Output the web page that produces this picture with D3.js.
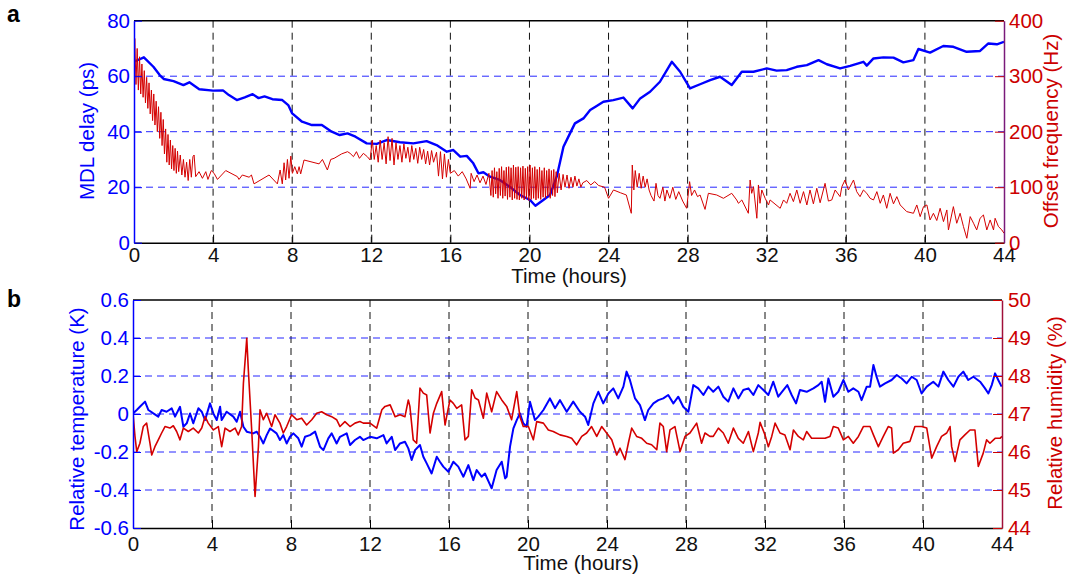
<!DOCTYPE html>
<html lang="en">
<head>
<meta charset="UTF-8">
<script src="https://cdn.jsdelivr.net/npm/d3@7"></script>
<title>MDL delay and lab environment</title>
<style>
  body { margin: 0; background: #fff; }
  svg { font-family: "Liberation Sans", Arial, sans-serif; }
</style>
</head>
<body>
<script>
// ---------- data ----------
const hourTicks = d3.range(0, 45, 4);
const delayTicks = [0, 20, 40, 60, 80];
const freqTicks = [0, 100, 200, 300, 400];
const tempTicks = [-0.6, -0.4, -0.2, 0, 0.2, 0.4, 0.6];
const humidTicks = [44, 45, 46, 47, 48, 49, 50];

// panel a, left axis: MDL delay (ps) vs time (h)
const delaySeries = [
  [0,65.2],[0.5,66.8],[0.98,63.4],[1.3,60.4],[1.5,59],[2,58.2],[2.5,56.8],[2.8,57.8],[3.3,55.3],[4,54.8],
  [4.5,54.9],[4.8,53.2],[5.2,51.4],[5.6,52.4],[6,53.5],[6.3,52.1],[6.6,52.7],[7,51.7],[7.5,51.4],[7.8,49.6],
  [8,46.6],[8.5,43.6],[9,42.4],[9.5,42.4],[10,40],[10.4,38.8],[10.8,39.4],[11.2,38.2],[11.77,35.8],[12.28,35.6],
  [12.78,37],[13.45,36.2],[14.13,35.8],[14.8,36.6],[15.3,35.2],[15.82,32.8],[16.15,33.4],[16.5,31],[16.83,31.3],[17.16,28.6],
  [17.42,25],[17.67,25.4],[18,23.8],[18.5,22.6],[19,20.2],[19.52,17.2],[20.03,15.4],[20.3,13.3],[20.7,15.4],[21.04,17.2],
  [21.38,23.8],[21.72,34.6],[22.05,39.4],[22.3,43],[22.73,44.8],[23.07,47.8],[23.4,49.3],[23.74,50.8],[24.24,51.4],[24.75,52.3],
  [25.22,48.4],[25.6,52],[26.1,54.4],[26.6,58],[27.2,65.2],[27.62,61.6],[28.12,55.6],[28.63,57.1],[29.14,58.6],[29.64,59.8],
  [30.23,56.8],[30.74,61.6],[31.33,61.6],[32,62.8],[32.5,62],[33.01,62.2],[33.52,63.4],[34.03,64],[34.62,65.8],[35.04,64.3],
  [35.71,62.8],[36.22,63.7],[36.89,65.2],[37.06,63.8],[37.4,66.4],[37.9,66.8],[38.41,66.7],[38.91,65],[39.42,65.8],[39.67,69.8],
  [40.26,68.5],[40.93,70.9],[41.44,70.6],[42.11,68.8],[42.79,69.1],[43.21,71.8],[43.64,71.5],[44,72.4]
];

// panel a, right axis: offset frequency (Hz) vs time (h)
const freqSeries = [
  [0,280],[0.04,368],[0.1,285],[0.16,350],[0.22,275],[0.28,335],[0.34,268],[0.4,322],[0.46,262],[0.52,310],
  [0.58,252],[0.64,298],[0.7,242],[0.76,288],[0.82,232],[0.88,275],[0.94,220],[1,268],[1.06,212],[1.12,255],
  [1.18,200],[1.24,245],[1.3,188],[1.36,235],[1.42,175],[1.48,222],[1.54,160],[1.6,205],[1.66,145],[1.72,195],
  [1.78,140],[1.84,185],[1.9,133],[1.96,175],[2.02,130],[2.08,170],[2.14,125],[2.2,165],[2.26,128],[2.34,158],
  [2.42,122],[2.5,150],[2.58,118],[2.66,145],[2.74,112],[2.82,150],[2.9,118],[2.98,155],
  [3.04,158],[3.12,119],[3.29,128],[3.46,116],[3.63,128],[3.74,114],[3.91,130],[4.05,125],[4.22,114],[4.64,130],
  [5.23,119],[5.31,114],[5.48,122],[5.82,118],[5.94,122],[6.07,106],[6.83,122],[7.25,106],[7.39,131],[7.5,106],
  [7.59,144],[7.67,113],[7.76,150],[7.84,116],[7.93,156],[8.01,125],[8.13,137],[8.26,124],[8.35,137],[8.43,124],
  [8.6,149],[9.36,142],[9.53,150],[9.78,131],[9.95,150],[10.12,152],[10.5,160],[10.8,164],
  [10.93,161],[11.1,155],[11.25,164],[11.4,152],[11.6,161],[11.8,155],[11.94,149],[12.05,185],[12.15,150],[12.25,175],
  [12.35,145],[12.45,185],[12.55,150],[12.65,180],[12.75,142],[12.85,191],[12.95,148],[13.05,188],[13.15,140],[13.25,180],
  [13.35,150],[13.45,175],[13.55,145],[13.65,178],[13.75,152],[13.85,172],[13.95,145],[14.05,175],[14.15,150],[14.25,170],
  [14.35,143],[14.45,172],[14.55,150],[14.65,168],[14.75,142],[14.85,165],[14.95,140],[15.05,166],[15.15,145],[15.3,163],
  [15.4,120],[15.5,164],[15.6,115],[15.7,160],[15.8,118],[15.9,150],[16,125],[16.2,130],[16.4,120],[16.6,128],
  [16.8,115],[17,98],[17.05,125],[17.2,110],[17.35,122],[17.5,108],[17.65,120],[17.8,105],[17.95,125],
  [18.05,85],[18.11,130],[18.17,82],[18.23,135],[18.29,88],[18.35,128],[18.41,80],[18.47,134],[18.53,85],[18.59,137],
  [18.65,80],[18.71,130],[18.77,84],[18.83,136],[18.89,78],[18.95,137],[19.01,82],[19.07,135],[19.13,77],[19.19,140],
  [19.25,80],[19.31,136],[19.37,78],[19.43,137],[19.49,77],[19.55,135],[19.61,80],[19.67,138],[19.73,77],[19.79,134],
  [19.85,79],[19.91,137],[19.97,76],[20.03,140],[20.09,78],[20.15,135],[20.21,80],[20.27,137],[20.33,77],[20.39,132],
  [20.45,80],[20.51,136],[20.57,78],[20.63,130],[20.69,82],[20.75,135],[20.81,80],[20.87,130],[20.93,84],[20.99,133],
  [21.05,80],[21.11,130],[21.17,85],[21.23,132],[21.29,83],[21.35,128],[21.41,90],[21.5,125],[21.6,95],[21.7,123],
  [21.8,100],[21.9,122],[22,98],[22.1,118],[22.2,100],[22.3,120],[22.4,102],[22.5,115],[22.6,100],[22.7,108],
  [22.9,112],[23.1,104],[23.3,110],[23.5,103],[23.8,100],[24,80],[24.25,95],[24.6,90],[24.9,86],[25.15,53],
  [25.2,140],[25.28,95],[25.35,130],[25.45,100],[25.55,125],[25.65,98],[25.75,120],[25.85,100],[25.95,115],[26.05,95],
  [26.15,85],[26.3,75],[26.4,107],[26.5,85],[26.6,80],[26.75,100],[26.85,75],[26.95,95],[27.1,80],[27.25,100],
  [27.4,78],[27.55,92],[27.75,75],[27.95,62],[28.1,110],[28.2,85],[28.35,95],[28.5,83],[28.63,86],
  [28.88,60],[29.05,89],[29.47,86],[29.81,80],[30.23,89],[30.48,77],[30.57,71],[30.74,77],[31.07,53],[31.16,113],
  [31.24,89],[31.33,101],[31.5,44],[31.58,104],[31.66,71],[31.75,95],[31.92,80],[32.09,68],[32.17,77],[32.68,62],
  [32.85,77],[33.01,71],[33.18,89],[33.35,74],[33.52,95],[33.69,71],[33.86,92],[34.03,68],[34.19,95],[34.36,70],
  [34.53,98],[34.7,72],[34.95,107],[35.12,75],[35.29,77],[35.46,95],[35.71,83],[35.8,101],[35.96,113],[36.13,95],
  [36.39,113],[36.55,92],[36.72,83],[36.89,95],[37.06,89],[37.23,80],[37.4,77],[37.57,92],[37.74,71],[37.9,86],
  [38.07,62],[38.24,89],[38.41,70],[38.58,83],[38.75,68],[39.08,56],[39.42,53],[39.59,68],[39.76,47],[39.93,65],
  [40.1,68],[40.26,41],[40.43,53],[40.6,40],[40.77,62],[40.94,38],[41.11,59],[41.19,23],[41.44,65],[41.61,35],
  [41.78,53],[41.95,29],[42.12,8],[42.29,47],[42.46,35],[42.62,23],[42.79,44],[42.96,50],[43.13,23],[43.3,41],
  [43.47,23],[43.55,44],[43.72,29],[43.89,23],[44,17]
];

// panel b, left axis: relative temperature (K) vs time (h)
const tempSeries = [
  [0,0.003],[0.19,0.021],[0.35,0.038],[0.61,0.065],[0.78,0.021],[1.03,0.003],[1.28,-0.014],[1.45,0.021],[1.7,0.012],[1.96,0.03],
  [2.13,-0.014],[2.38,0.038],[2.55,-0.067],[2.72,-0.049],[2.89,0.003],[3.05,-0.049],[3.31,0.03],[3.48,0.012],[3.65,-0.032],[3.9,0.056],
  [4.07,0.003],[4.24,-0.032],[4.41,0.038],[4.49,-0.032],[4.74,0.012],[5.08,-0.014],[5.25,-0.041],[5.42,0.012],[5.59,-0.067],[5.76,-0.093],
  [6.09,-0.102],[6.26,-0.093],[6.43,-0.12],[6.6,-0.155],[6.77,-0.111],[6.94,-0.076],[7.27,-0.102],[7.44,-0.137],[7.61,-0.111],[7.78,-0.155],
  [7.95,-0.12],[8.12,-0.102],[8.37,-0.128],[8.54,-0.172],[8.71,-0.12],[8.96,-0.111],[9.22,-0.093],[9.47,-0.172],[9.64,-0.19],[9.89,-0.128],
  [10.06,-0.102],[10.31,-0.155],[10.48,-0.12],[10.82,-0.102],[10.99,-0.163],[11.24,-0.137],[11.49,-0.12],[11.66,-0.137],[12,-0.12],[12.34,-0.128],
  [12.68,-0.111],[12.84,-0.155],[13.1,-0.12],[13.27,-0.19],[13.52,-0.155],[13.77,-0.146],[13.94,-0.181],[14.11,-0.242],[14.28,-0.19],[14.53,-0.163],
  [14.7,-0.225],[14.87,-0.26],[15.12,-0.313],[15.38,-0.225],[15.54,-0.251],[15.71,-0.277],[15.97,-0.304],[16.22,-0.251],[16.47,-0.277],[16.73,-0.33],
  [16.98,-0.269],[17.23,-0.348],[17.4,-0.295],[17.65,-0.33],[17.82,-0.313],[18.16,-0.391],[18.41,-0.295],[18.67,-0.251],[18.84,-0.339],[18.92,-0.33],
  [19.09,-0.172],[19.26,-0.076],[19.43,-0.032],[19.59,0.003],[19.76,-0.049],[19.93,-0.067],[20.1,0.065],[20.35,-0.032],[20.52,-0.014],[20.78,0.021],
  [21.11,0.082],[21.37,0.03],[21.62,0.073],[21.96,0.012],[22.29,0.065],[22.63,0.012],[22.89,-0.014],[23.05,-0.058],[23.31,0.056],[23.56,0.117],
  [23.81,0.056],[24.07,0.108],[24.32,0.135],[24.57,0.082],[24.83,0.144],[24.99,0.223],[25.16,0.179],[25.42,0.082],[25.67,0.047],[25.92,-0.032],
  [26.09,0.021],[26.35,0.056],[26.6,0.073],[26.85,0.082],[27.1,0.1],[27.36,0.056],[27.61,0.091],[27.86,0.038],[28.12,0.012],[28.37,0.152],
  [28.62,0.135],[28.88,0.1],[29.13,0.144],[29.38,0.117],[29.64,0.144],[29.89,0.091],[30.14,0.065],[30.4,0.135],[30.65,0.082],[30.9,0.126],
  [31.16,0.135],[31.41,0.1],[31.66,0.152],[31.92,0.126],[32.17,0.1],[32.42,0.17],[32.67,0.091],[32.93,0.126],[33.13,0.152],[33.35,0.1],
  [33.57,0.056],[33.77,0.126],[34.11,0.117],[34.45,0.135],[34.7,0.152],[34.87,0.17],[35.04,0.064],[35.21,0.187],[35.46,0.091],[35.71,0.117],
  [35.97,0.179],[36.22,0.117],[36.47,0.135],[36.73,0.117],[36.89,0.073],[37.15,0.144],[37.32,0.144],[37.49,0.258],[37.65,0.196],[37.82,0.144],
  [38.08,0.161],[38.41,0.179],[38.67,0.205],[38.92,0.187],[39.17,0.161],[39.43,0.196],[39.68,0.179],[39.93,0.108],[40.19,0.144],[40.52,0.17],
  [40.78,0.144],[41.03,0.223],[41.28,0.179],[41.54,0.144],[41.79,0.196],[42.04,0.223],[42.29,0.179],[42.55,0.196],[42.89,0.17],[43.14,0.135],
  [43.31,0.108],[43.48,0.152],[43.65,0.214],[43.81,0.179],[43.98,0.144]
];

// panel b, right axis: relative humidity (%) vs time (h)
const humidSeries = [
  [0,47.02],[0.1,46.41],[0.19,46.01],[0.35,46.23],[0.52,46.67],[0.69,46.76],[0.86,46.23],[0.95,45.92],[1.11,46.14],[1.28,46.32],
  [1.45,46.5],[1.62,46.67],[1.87,46.63],[2.04,46.69],[2.21,46.54],[2.38,46.32],[2.55,46.63],[2.8,46.54],[3.05,46.63],[3.31,46.5],
  [3.48,46.63],[3.65,46.93],[3.81,46.76],[4.07,46.58],[4.32,46.67],[4.49,46.14],[4.66,46.63],[4.91,46.54],[5.17,46.63],[5.33,46.45],
  [5.5,46.67],[5.59,47.81],[5.76,48.99],[5.84,48.16],[6.01,46.58],[6.18,44.83],[6.35,46.14],[6.43,47.11],[6.6,46.85],[6.77,47.02],
  [7.02,46.67],[7.19,46.98],[7.44,46.76],[7.61,46.5],[7.78,46.67],[8.03,46.98],[8.29,46.85],[8.54,46.89],[8.79,46.71],[9.05,46.85],
  [9.3,47.02],[9.55,47.06],[9.81,46.98],[10.06,46.93],[10.31,46.85],[10.48,46.67],[10.73,46.8],[10.99,46.67],[11.24,46.76],[11.49,46.8],
  [11.66,46.76],[12,46.76],[12.34,46.63],[12.6,47.11],[12.76,47.2],[13.02,47.24],[13.27,46.93],[13.52,46.98],[13.77,46.93],[13.94,47.37],
  [14.02,47.2],[14.19,46.32],[14.36,46.23],[14.53,47.68],[14.7,47.55],[14.87,47.5],[15.04,46.5],[15.21,47.02],[15.38,47.28],[15.63,47.59],
  [15.8,46.71],[15.88,46.93],[16.05,47.37],[16.22,47.28],[16.39,47.15],[16.64,47.24],[16.81,46.32],[16.98,46.41],[17.15,47.64],[17.32,47.42],
  [17.49,47.37],[17.74,46.89],[17.91,47.55],[18.16,47.06],[18.41,47.59],[18.67,47.37],[18.92,47.2],[19.17,46.85],[19.43,47.59],[19.59,46.93],
  [19.76,46.67],[20.02,46.67],[20.27,46.32],[20.44,46.8],[20.78,46.76],[21.03,46.58],[21.28,46.54],[21.62,46.45],[21.96,46.41],[22.21,46.36],
  [22.46,46.19],[22.72,46.41],[22.97,46.5],[23.22,46.67],[23.48,46.41],[23.73,46.67],[23.98,46.5],[24.24,46.32],[24.49,45.92],[24.66,46.1],
  [24.91,45.8],[25.08,46.23],[25.25,46.63],[25.5,46.41],[25.76,46.36],[26.01,46.23],[26.26,46.19],[26.52,46.06],[26.68,46.76],[26.85,46.67],
  [27.02,46.01],[27.19,46.58],[27.44,46.67],[27.7,46.01],[27.95,46.41],[28.2,46.5],[28.54,46.76],[28.79,46.23],[28.96,46.5],[29.21,46.41],
  [29.38,46.41],[29.64,46.63],[29.89,46.5],[30.14,46.23],[30.4,46.63],[30.65,46.36],[30.9,46.23],[31.16,46.54],[31.41,46.01],[31.66,46.5],
  [31.75,46.78],[32,46.45],[32.17,46.14],[32.34,46.41],[32.51,46.76],[32.76,46.5],[33.01,46.45],[33.27,46.06],[33.44,46.58],[33.69,46.41],
  [33.94,46.32],[34.11,46.54],[34.36,46.36],[34.7,46.36],[35.04,46.36],[35.29,46.41],[35.46,46.67],[35.71,46.63],[35.97,46.32],[36.22,46.41],
  [36.47,46.23],[36.73,46.41],[36.98,46.67],[37.32,46.67],[37.49,46.45],[37.74,46.14],[37.99,46.41],[38.24,46.67],[38.41,46.63],[38.5,45.97],
  [38.75,46.06],[39,46.23],[39.34,46.28],[39.59,46.67],[39.93,46.67],[40.19,46.63],[40.44,45.84],[40.69,46.14],[40.94,46.41],[41.2,46.5],
  [41.37,46.67],[41.45,46.14],[41.62,45.75],[41.87,46.32],[42.12,46.45],[42.38,46.58],[42.63,46.58],[42.8,45.62],[43.05,45.97],[43.22,46.32],
  [43.39,46.23],[43.65,46.36],[43.9,46.36],[44,46.41]
];

// ---------- drawing ----------
const blue = '#0000ff', red = '#cc0000', lineRed = '#d40000';
const fontSize = 20.5;

const svg = d3.select('body').append('svg')
  .attr('width', 1068)
  .attr('height', 575);

function fmtTemp(d) {
  if (Math.abs(d) < 1e-9) return '0';
  return (d < 0 ? '-' : '') + Math.abs(d).toFixed(1);
}

function drawPanel(p) {
  const x = d3.scaleLinear().domain([0, 44]).range([p.left, p.right]);
  const yL = d3.scaleLinear().domain(d3.extent(p.leftTicks)).range([p.bottom, p.top]);
  const yR = d3.scaleLinear().domain(d3.extent(p.rightTicks)).range([p.bottom, p.top]);
  const g = svg.append('g');

  g.append('clipPath').attr('id', 'clip-' + p.name)
    .append('rect')
    .attr('x', p.left).attr('y', p.top)
    .attr('width', p.right - p.left).attr('height', p.bottom - p.top);

  // dashed grid: black verticals, blue horizontals
  g.append('g').selectAll('line')
    .data(hourTicks.slice(1, -1)).join('line')
    .attr('x1', d => x(d)).attr('x2', d => x(d))
    .attr('y1', p.top).attr('y2', p.bottom)
    .attr('stroke', '#111').attr('stroke-width', 1)
    .attr('stroke-dasharray', '7,5');
  g.append('g').selectAll('line')
    .data(p.leftTicks.slice(1, -1)).join('line')
    .attr('x1', p.left).attr('x2', p.right)
    .attr('y1', d => yL(d)).attr('y2', d => yL(d))
    .attr('stroke', blue).attr('stroke-opacity', 0.85).attr('stroke-width', 1)
    .attr('stroke-dasharray', '7,5');

  // series
  const plot = g.append('g').attr('clip-path', `url(#clip-${p.name})`);
  plot.append('path').datum(p.leftSeries)
    .attr('d', d3.line().x(d => x(d[0])).y(d => yL(d[1])))
    .attr('fill', 'none').attr('stroke', blue)
    .attr('stroke-width', p.leftWidth).attr('stroke-linejoin', 'round');
  plot.append('path').datum(p.rightSeries)
    .attr('d', d3.line().x(d => x(d[0])).y(d => yR(d[1])))
    .attr('fill', 'none').attr('stroke', lineRed)
    .attr('stroke-width', p.rightWidth).attr('stroke-linejoin', 'round');

  // top border
  g.append('line')
    .attr('x1', p.left).attr('x2', p.right).attr('y1', p.top).attr('y2', p.top)
    .attr('stroke', '#000').attr('stroke-width', 1.5);

  // bottom axis
  const xAx = g.append('g').attr('transform', `translate(0,${p.bottom})`)
    .call(d3.axisBottom(x).tickValues(hourTicks).tickSize(-8).tickSizeOuter(0).tickPadding(p.xPad));
  xAx.attr('font-size', fontSize).attr('font-family', null);
  xAx.select('.domain').attr('stroke', '#000').attr('stroke-width', 1.5);
  xAx.selectAll('.tick line').attr('stroke', '#000');
  xAx.selectAll('.tick text').attr('fill', '#111');

  // left axis
  const lAx = g.append('g').attr('transform', `translate(${p.left},0)`)
    .call(d3.axisLeft(yL).tickValues(p.leftTicks).tickFormat(p.leftFormat)
      .tickSize(-8).tickSizeOuter(0).tickPadding(p.lPad));
  lAx.attr('font-size', fontSize).attr('font-family', null);
  lAx.select('.domain').attr('stroke', blue).attr('stroke-width', 1.5);
  lAx.selectAll('.tick line').attr('stroke', blue);
  lAx.selectAll('.tick text').attr('fill', blue);

  // right axis
  const rAx = g.append('g').attr('transform', `translate(${p.right},0)`)
    .call(d3.axisRight(yR).tickValues(p.rightTicks).tickFormat(d3.format('d'))
      .tickSize(-9).tickSizeOuter(0).tickPadding(p.rPad));
  rAx.attr('font-size', fontSize).attr('font-family', null);
  rAx.select('.domain').attr('stroke', p.rightEdge).attr('stroke-width', 1.5);
  rAx.selectAll('.tick line').attr('stroke', red);
  rAx.selectAll('.tick text').attr('fill', red);

  // titles
  g.append('text')
    .attr('transform', `translate(${p.leftTitleX},${p.leftTitleY}) rotate(-90)`)
    .attr('text-anchor', 'middle').attr('font-size', fontSize).attr('fill', blue)
    .text(p.leftTitle);
  g.append('text')
    .attr('transform', `translate(${p.rightTitleX},${p.rightTitleY}) rotate(-90)`)
    .attr('text-anchor', 'middle').attr('font-size', fontSize).attr('fill', red)
    .text(p.rightTitle);
  g.append('text')
    .attr('x', p.xTitleX).attr('y', p.xTitleY)
    .attr('text-anchor', 'middle').attr('font-size', fontSize).attr('fill', '#111')
    .text('Time (hours)');
  g.append('text')
    .attr('x', 7).attr('y', p.tagY)
    .attr('font-size', 23).attr('font-weight', 'bold').attr('fill', '#000')
    .text(p.name);
}

drawPanel({
  name: 'a',
  left: 134, right: 1004, top: 20.7, bottom: 242.7,
  leftTicks: delayTicks, rightTicks: freqTicks, leftFormat: d3.format('d'),
  leftSeries: delaySeries, rightSeries: freqSeries,
  leftWidth: 2.4, rightWidth: 1,
  rightEdge: '#7a1a7a',
  xPad: 5, lPad: 4, rPad: 5,
  leftTitle: 'MDL delay (ps)', leftTitleX: 94, leftTitleY: 131,
  rightTitle: 'Offset frequency (Hz)', rightTitleX: 1058, rightTitleY: 131,
  xTitleX: 569, xTitleY: 283, tagY: 22
});

drawPanel({
  name: 'b',
  left: 133, right: 1002, top: 300, bottom: 528,
  leftTicks: tempTicks, rightTicks: humidTicks, leftFormat: fmtTemp,
  leftSeries: tempSeries, rightSeries: humidSeries,
  leftWidth: 2, rightWidth: 1.6,
  rightEdge: '#a0103a',
  xPad: 8, lPad: 4, rPad: 6,
  leftTitle: 'Relative temperature (K)', leftTitleX: 84, leftTitleY: 419,
  rightTitle: 'Relative humidity (%)', rightTitleX: 1062, rightTitleY: 413,
  xTitleX: 581, xTitleY: 570, tagY: 307
});
</script>
</body>
</html>
